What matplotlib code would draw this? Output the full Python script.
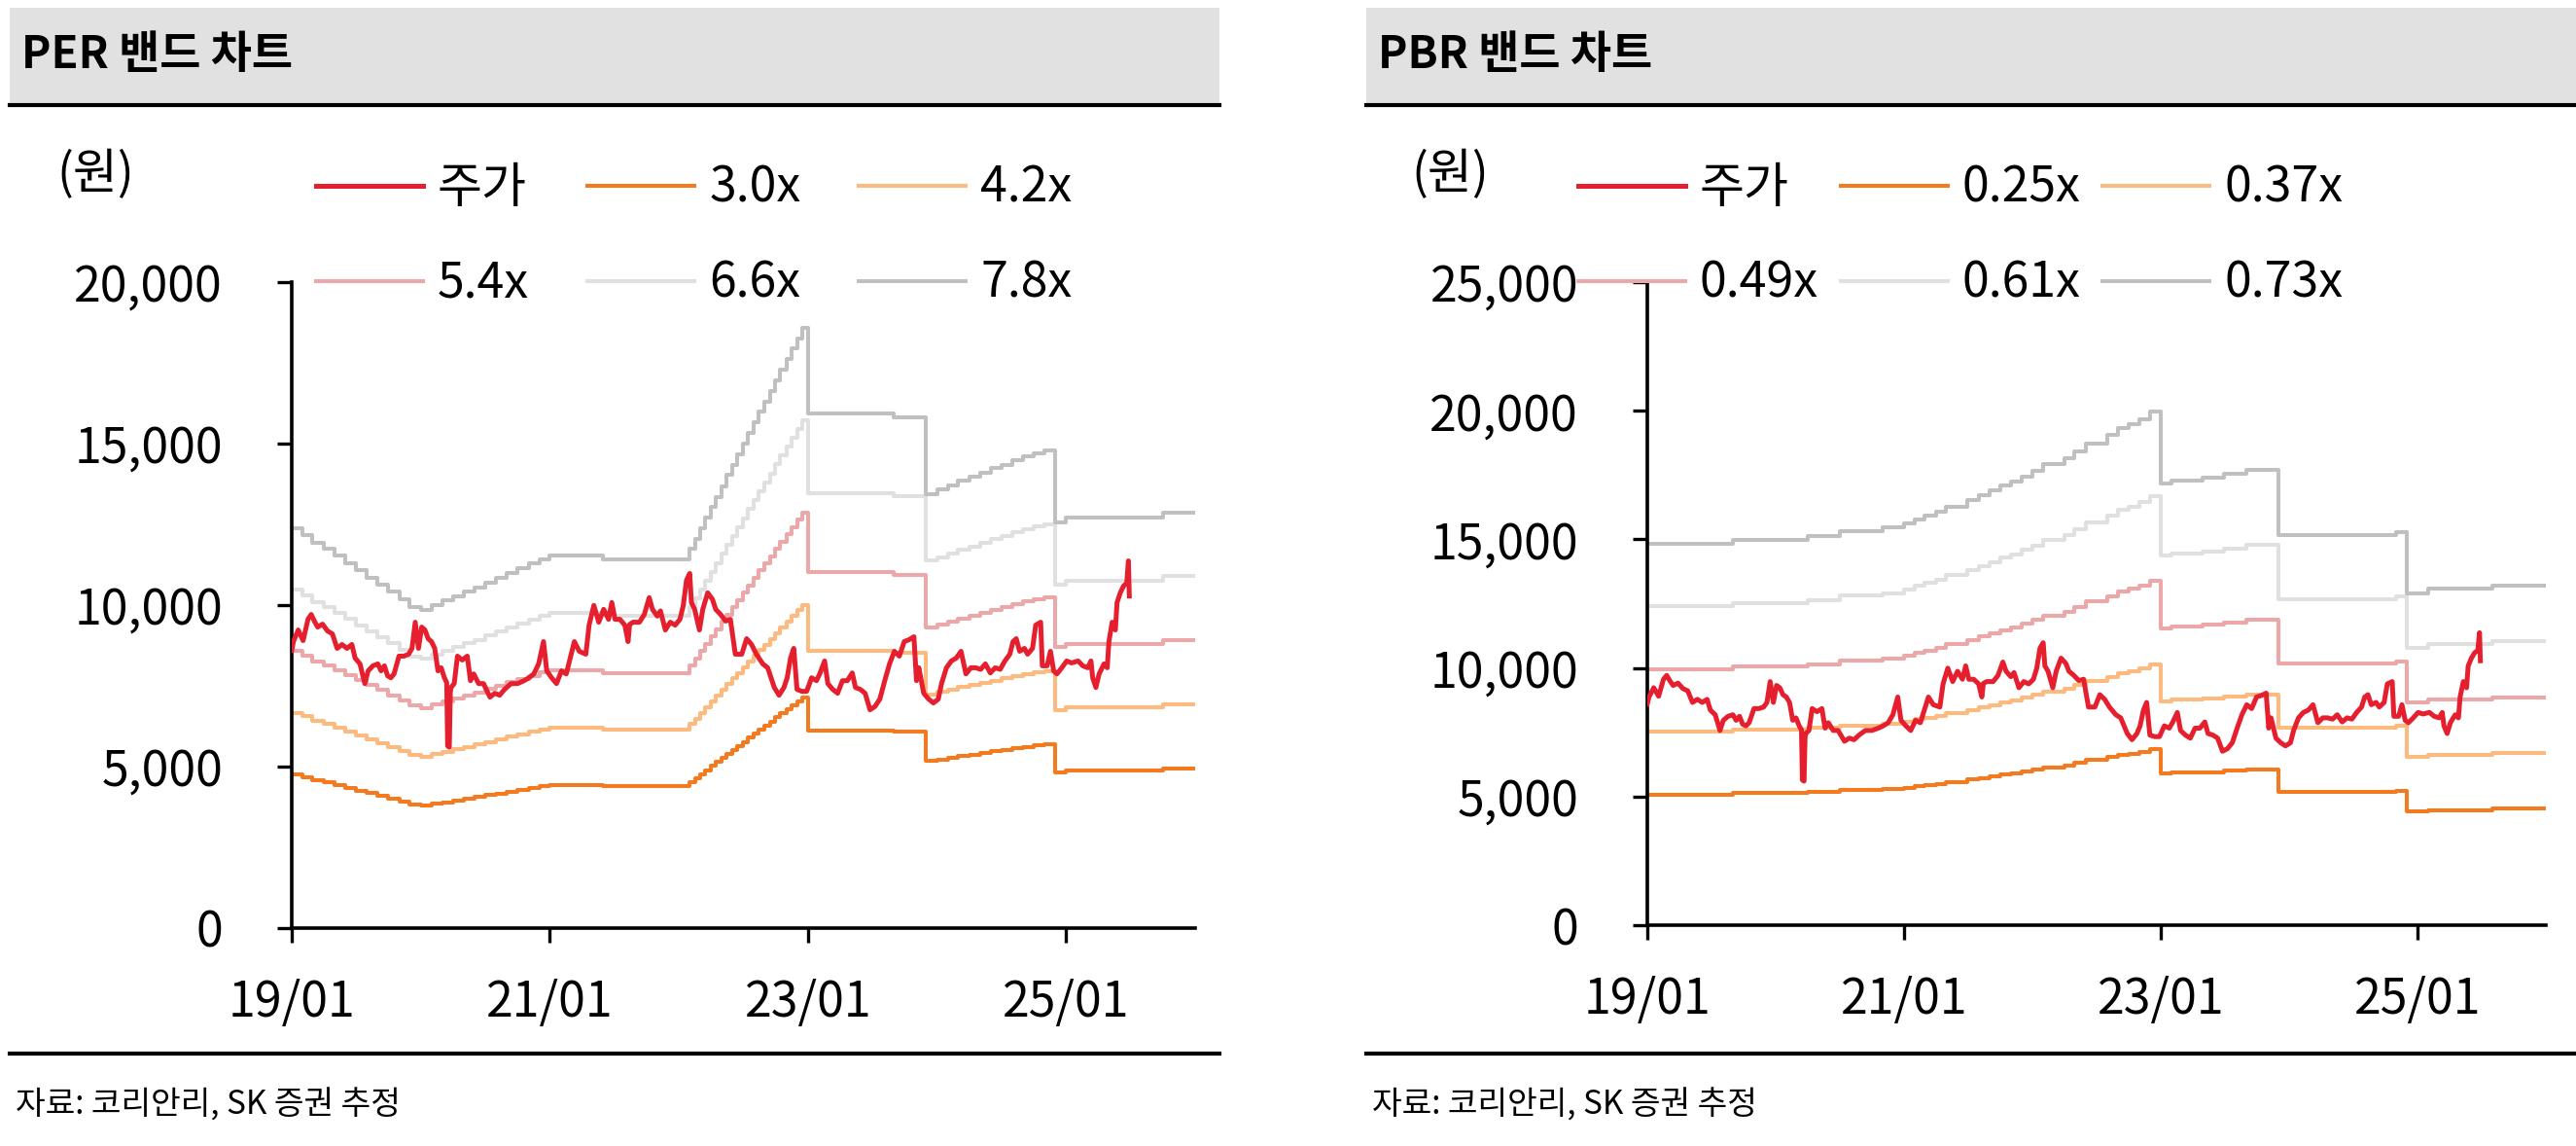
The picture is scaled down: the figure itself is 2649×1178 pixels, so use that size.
import numpy as np
import pandas as pd
import matplotlib.pyplot as plt
from matplotlib.patches import Rectangle
from matplotlib.lines import Line2D
from matplotlib.ticker import FuncFormatter

plt.rcParams['font.family'] = ['Noto Sans CJK KR', 'DejaVu Sans']
plt.rcParams['font.size'] = 36

# 주가 (연도 소수, 원)
price_yr = [2019.000, 2019.013, 2019.050, 2019.088, 2019.126, 2019.151, 2019.176, 2019.201, 2019.239, 2019.277,
            2019.315, 2019.352, 2019.390, 2019.428, 2019.466, 2019.491, 2019.529, 2019.566, 2019.592, 2019.629,
            2019.667, 2019.692, 2019.718, 2019.743, 2019.768, 2019.793, 2019.831, 2019.869, 2019.906, 2019.932,
            2019.957, 2019.982, 2020.007, 2020.032, 2020.057, 2020.083, 2020.108, 2020.133, 2020.158, 2020.183,
            2020.201, 2020.208, 2020.221, 2020.229, 2020.234, 2020.259, 2020.284, 2020.322, 2020.360, 2020.385,
            2020.410, 2020.448, 2020.486, 2020.536, 2020.573, 2020.611, 2020.649, 2020.699, 2020.750, 2020.800,
            2020.838, 2020.876, 2020.913, 2020.951, 2020.976, 2021.014, 2021.052, 2021.090, 2021.127, 2021.165,
            2021.190, 2021.228, 2021.279, 2021.304, 2021.341, 2021.379, 2021.417, 2021.455, 2021.480, 2021.505,
            2021.543, 2021.581, 2021.606, 2021.618, 2021.644, 2021.694, 2021.732, 2021.770, 2021.795, 2021.832,
            2021.857, 2021.895, 2021.933, 2021.971, 2022.008, 2022.034, 2022.059, 2022.084, 2022.097, 2022.122,
            2022.159, 2022.185, 2022.223, 2022.260, 2022.285, 2022.323, 2022.361, 2022.399, 2022.437, 2022.487,
            2022.525, 2022.563, 2022.600, 2022.650, 2022.688, 2022.714, 2022.739, 2022.776, 2022.814, 2022.839,
            2022.865, 2022.890, 2022.915, 2022.953, 2022.990, 2023.028, 2023.066, 2023.091, 2023.129, 2023.154,
            2023.192, 2023.230, 2023.267, 2023.305, 2023.343, 2023.368, 2023.406, 2023.443, 2023.481, 2023.519,
            2023.557, 2023.595, 2023.632, 2023.670, 2023.708, 2023.746, 2023.784, 2023.821, 2023.841, 2023.859,
            2023.897, 2023.935, 2023.972, 2024.010, 2024.035, 2024.073, 2024.111, 2024.149, 2024.186, 2024.224,
            2024.262, 2024.300, 2024.338, 2024.375, 2024.413, 2024.451, 2024.489, 2024.526, 2024.564, 2024.589,
            2024.614, 2024.640, 2024.677, 2024.702, 2024.740, 2024.765, 2024.803, 2024.816, 2024.853, 2024.879,
            2024.904, 2024.929, 2024.967, 2025.005, 2025.042, 2025.093, 2025.130, 2025.168, 2025.193, 2025.206,
            2025.231, 2025.256, 2025.294, 2025.319, 2025.332, 2025.357, 2025.382, 2025.395, 2025.420, 2025.445,
            2025.470, 2025.483, 2025.490]
price_v = [8600, 8870, 9230, 8900, 9560, 9710, 9500, 9320, 9410, 9200,
           9110, 8660, 8780, 8660, 8780, 8360, 8180, 7570, 7965, 8120,
           8180, 7965, 8120, 7810, 7750, 7870, 8420, 8420, 8480, 8660,
           9470, 8660, 9320, 9230, 8960, 8870, 8660, 7965, 8060, 7750,
           7600, 5640, 5600, 7300, 7450, 7570, 8420, 8300, 8420, 7660,
           7870, 7570, 7570, 7150, 7270, 7210, 7390, 7570, 7570, 7660,
           7750, 7870, 8180, 8870, 7965, 7750, 7570, 7965, 7870, 8480,
           8870, 8570, 8480, 9380, 9990, 9470, 9870, 9560, 10080, 9560,
           9560, 9380, 8870, 9400, 9470, 9470, 9710, 10230, 9870, 9660,
           9820, 9230, 9470, 9380, 9560, 9990, 10770, 10980, 10080, 9870,
           9230, 9870, 10380, 10180, 9870, 9710, 9510, 9560, 8480, 8480,
           8960, 8780, 8480, 8180, 8060, 7750, 7450, 7210, 7450, 7750,
           8360, 8660, 7390, 7330, 7330, 7750, 7660, 7870, 8270, 7570,
           7390, 7270, 7660, 7660, 7900, 7450, 7390, 7270, 6760, 6860,
           7090, 7660, 8180, 8570, 8420, 8870, 8930, 9020, 7660, 8060,
           7270, 7090, 6970, 7090, 7570, 8060, 8270, 8360, 8570, 7870,
           8060, 8060, 8010, 8180, 7900, 8060, 8010, 8270, 8480, 8870,
           8960, 8570, 8660, 8480, 8660, 9380, 9470, 8120, 8120, 8570,
           7965, 7870, 8060, 8270, 8210, 8270, 8120, 8060, 8270, 7750,
           7450, 7870, 8180, 8060, 8870, 9470, 9230, 10080, 10380, 10590,
           10680, 11370, 10280]

# EPS (원), 변경 시점
eps_date = ['2019-01-01', '2019-02-01', '2019-03-01', '2019-04-01', '2019-05-01', '2019-06-01',
            '2019-07-01', '2019-08-01', '2019-09-01', '2019-10-01', '2019-11-01', '2019-12-01',
            '2020-01-01', '2020-02-01', '2020-03-01', '2020-04-01', '2020-05-01', '2020-06-01',
            '2020-07-01', '2020-08-01', '2020-09-01', '2020-10-01', '2020-11-01', '2020-12-01',
            '2021-01-01', '2021-06-01',
            '2022-02-01', '2022-02-15', '2022-03-01', '2022-03-15', '2022-04-01', '2022-04-15',
            '2022-05-01', '2022-05-15', '2022-06-01', '2022-06-15', '2022-07-01', '2022-07-15',
            '2022-08-01', '2022-08-15', '2022-09-01', '2022-09-15', '2022-10-01', '2022-10-15',
            '2022-11-01', '2022-11-15', '2022-12-01', '2022-12-15',
            '2023-01-01', '2023-09-01', '2023-12-01',
            '2024-01-01', '2024-02-01', '2024-03-01', '2024-04-01', '2024-05-01', '2024-06-01',
            '2024-07-01', '2024-08-01', '2024-09-01', '2024-10-01', '2024-11-01',
            '2024-12-01', '2025-01-01', '2025-10-01']
eps_v = [1588, 1560, 1530, 1505, 1478, 1450,
         1420, 1392, 1365, 1335, 1305, 1275,
         1263, 1282, 1300, 1318, 1335, 1352,
         1372, 1390, 1410, 1428, 1447, 1465,
         1480, 1464,
         1505, 1545, 1588, 1630, 1672, 1712,
         1755, 1798, 1840, 1880, 1922, 1965,
         2008, 2050, 2090, 2132, 2175, 2216,
         2258, 2300, 2342, 2383,
         2042, 2027, 1723,
         1740, 1758, 1775, 1790, 1808, 1825,
         1840, 1858, 1872, 1885, 1895,
         1610, 1628, 1650]

# BPS (원), 변경 시점
bps_date = ['2019-01-01', '2019-09-01', '2020-04-01', '2020-07-01', '2020-11-01', '2021-01-01',
            '2021-02-01', '2021-03-01', '2021-04-01', '2021-05-01', '2021-07-01', '2021-08-01',
            '2021-09-01', '2021-10-01', '2021-11-01', '2021-12-01', '2022-01-01', '2022-02-01',
            '2022-04-01', '2022-05-01', '2022-06-01', '2022-08-01', '2022-09-01', '2022-10-01',
            '2022-11-01', '2022-12-01', '2023-01-01', '2023-02-01', '2023-05-01', '2023-07-01',
            '2023-09-01', '2023-12-01', '2024-11-01', '2024-12-01', '2025-02-01', '2025-08-01']
bps_v = [20320, 20540, 20720, 20990, 21170, 21400,
         21620, 21800, 22000, 22290, 22630, 22900,
         23150, 23420, 23640, 23910, 24200, 24540,
         24880, 25210, 25665, 26110, 26450, 26675,
         26945, 27350, 23530, 23690, 23820, 24020,
         24270, 20790, 20945, 17690, 17915, 18090]

per_mult = [3.0, 4.2, 5.4, 6.6, 7.8]
per_labels = ['3.0x', '4.2x', '5.4x', '6.6x', '7.8x']
pbr_mult = [0.25, 0.37, 0.49, 0.61, 0.73]
pbr_labels = ['0.25x', '0.37x', '0.49x', '0.61x', '0.73x']

band_colors = ['#F47A20', '#FDBA7E', '#ECA8A8', '#E0E0E0', '#C0C0C0']
price_color = '#E51F2E'

tick_years = [2019, 2021, 2023, 2025]
tick_labels = ['19/01', '21/01', '23/01', '25/01']
x_end = 2026.0

W, H = 2649, 1178
fig = plt.figure(figsize=(W / 100, H / 100), dpi=100)


def to_year(dates):
    d = pd.to_datetime(dates)
    return list(d.year + (d.dayofyear - 1) / 365.0)


def panel(rect, title, base_d, base_v, mults, labels, ymax, x0, leg, colsp):
    ax = fig.add_axes(rect)
    bx = to_year(base_d) + [x_end]
    lines = []
    for mlt, lab, c in zip(mults, labels, band_colors):
        yy = [mlt * v for v in base_v] + [mlt * base_v[-1]]
        ln, = ax.step(bx, yy, where='post', color=c, lw=2.9, label=lab)
        lines.append(ln)
    pl, = ax.plot(price_yr, price_v, color=price_color, lw=3.6, label='주가', zorder=5)

    ax.set_xlim(2019, x_end)
    ax.set_ylim(0, ymax)
    ax.set_yticks(np.arange(0, ymax + 1, 5000))
    ax.yaxis.set_major_formatter(FuncFormatter(lambda v, p: f'{int(v):,}'))
    ax.set_xticks(tick_years)
    ax.set_xticklabels(tick_labels)
    for s in ['top', 'right']:
        ax.spines[s].set_visible(False)
    for s in ['left', 'bottom']:
        ax.spines[s].set_linewidth(2.6)
    ax.tick_params(axis='y', length=11, width=2.4, pad=40, labelsize=36)
    ax.tick_params(axis='x', length=11, width=2.4, pad=26, labelsize=36)

    # 범례 (행 순서: 주가, 1, 2 / 3, 4, 5)
    order = [pl, lines[2], lines[0], lines[3], lines[1], lines[4]]
    fig.legend(handles=order, labels=[h.get_label() for h in order], ncol=3,
               loc='upper left', bbox_to_anchor=leg, frameon=False, fontsize=36,
               handlelength=2.2, handletextpad=0.3, columnspacing=colsp,
               borderpad=0, borderaxespad=0, labelspacing=0.92)

    # 제목 바
    fig.add_artist(Rectangle((x0 / W, 1 - 106 / H), 1244 / W, 98 / H,
                             transform=fig.transFigure, facecolor='#E1E1E1', edgecolor='none'))
    fig.add_artist(Line2D([x0 / W, (x0 + 1244) / W], [1 - 107.5 / H] * 2, transform=fig.transFigure,
                          color='black', lw=3.0))
    fig.add_artist(Line2D([x0 / W, (x0 + 1244) / W], [1 - 1083 / H] * 2, transform=fig.transFigure,
                          color='black', lw=3.0))
    fig.text((x0 + 12) / W, 1 - 57 / H, title, fontsize=33, fontweight='bold', va='center', ha='left')
    fig.text((x0 + 6) / W, 1 - 1136 / H, '자료: 코리안리, SK 증권 추정', fontsize=24, va='center', ha='left')
    return ax


panel([300 / W, 1 - 954 / H, 929 / W, 664 / H], 'PER 밴드 차트', eps_date, eps_v,
      per_mult, per_labels, 20000, 10, (325 / W, 1 - 168 / H), 1.2)
fig.text(58 / W, 1 - 180 / H, '(원)', fontsize=36, va='center', ha='left')

panel([1694 / W, 1 - 951 / H, 924 / W, 661 / H], 'PBR 밴드 차트', bps_date, bps_v,
      pbr_mult, pbr_labels, 25000, 1405, (1623 / W, 1 - 168 / H), 0.45)
fig.text(1451 / W, 1 - 180 / H, '(원)', fontsize=36, va='center', ha='left')

fig.savefig('out.png', dpi=100)
